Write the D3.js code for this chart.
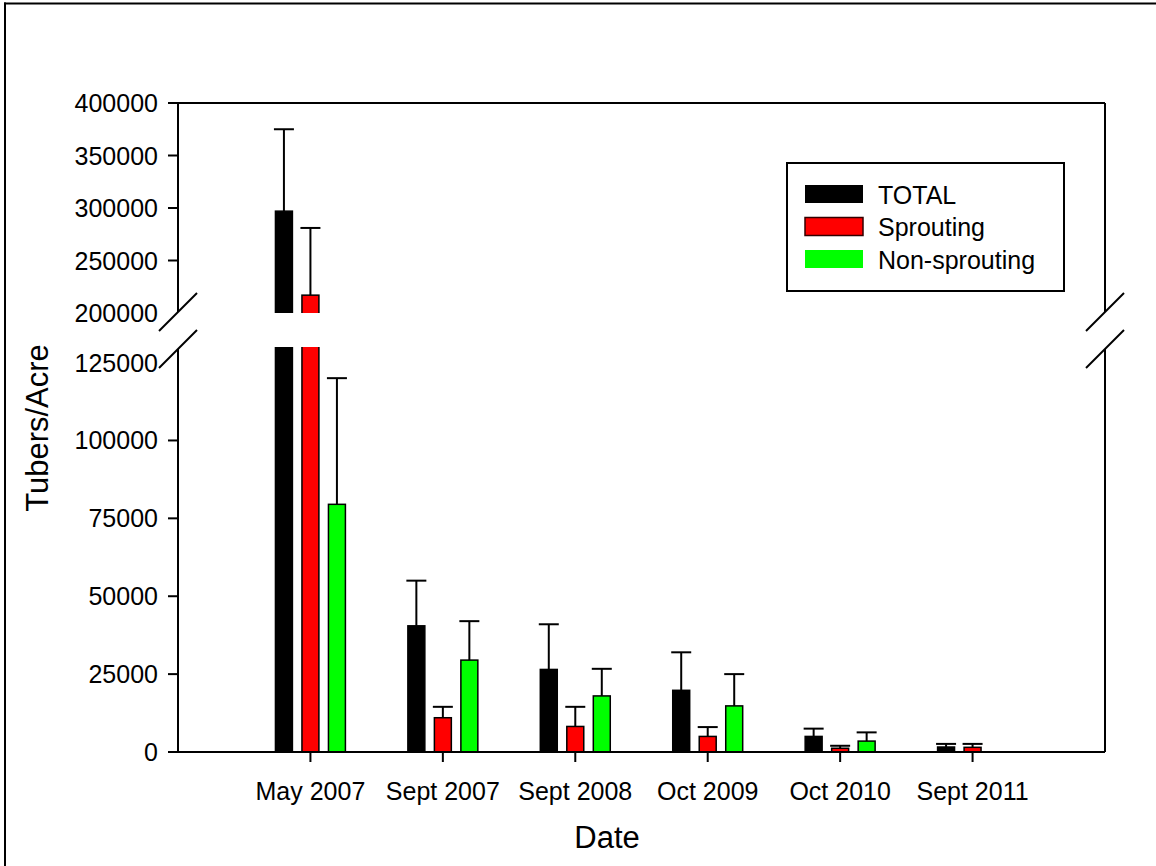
<!DOCTYPE html>
<html>
<head>
<meta charset="utf-8">
<script src="https://cdn.jsdelivr.net/npm/d3@7/dist/d3.min.js"></script>
<style>
  html, body { margin: 0; padding: 0; background: #fff; }
  svg { display: block; font-family: Arial, "Liberation Sans", sans-serif; }
</style>
</head>
<body>
<svg id="chart" width="1156" height="866"></svg>
<script>
// Tuber density by sampling date
const dates = ["May 2007", "Sept 2007", "Sept 2008", "Oct 2009", "Oct 2010", "Sept 2011"];
const seriesNames = ["TOTAL", "Sprouting", "Non-sprouting"];
const seriesColors = ["#000000", "#ff0000", "#00ff00"];

const totalMean      = [297000, 40500, 26500, 19800, 5000, 1600];
const totalUpper     = [375000, 55000, 41000, 32000, 7500, 2600];
const sproutingMean  = [217000, 11000,  8200,  5000, 1200, 1500];
const sproutingUpper = [281000, 14500, 14500,  8000, 2000, 2600];
const nonSproutMean  = [ 79500, 29500, 18000, 14800, 3500,    0];
const nonSproutUpper = [120000, 42000, 26700, 25000, 6300,    0];

const lowerTicks = [0, 25000, 50000, 75000, 100000, 125000];
const upperTicks = [200000, 250000, 300000, 350000, 400000];

const means = [totalMean, sproutingMean, nonSproutMean];
const uppers = [totalUpper, sproutingUpper, nonSproutUpper];

const svg = d3.select("#chart");

const plotLeft = 178, plotRight = 1105, plotTop = 103, plotBottom = 752;
const breakLow = 349, breakHigh = 312;   // axis break edges

// Broken y axis: two linear segments
const yLower = d3.scaleLinear().domain([0, 130000]).range([plotBottom, 347]);
const yUpper = d3.scaleLinear().domain([200000, 400000]).range([313, plotTop]);

const x = d3.scalePoint().domain(dates).range([plotLeft, plotRight]).padding(1);
const xs = d3.scaleBand().domain(seriesNames).range([-39.75, 39.75]).paddingInner(0.36).paddingOuter(0.18);
const bw = xs.bandwidth();

// outer frame edges
svg.append("line").attr("x1", 4).attr("x2", 1156).attr("y1", 3.5).attr("y2", 3.5)
  .attr("stroke", "#000").attr("stroke-width", 2);
svg.append("line").attr("x1", 5).attr("x2", 5).attr("y1", 2.5).attr("y2", 866)
  .attr("stroke", "#000").attr("stroke-width", 2);

const defs = svg.append("defs");
defs.append("clipPath").attr("id", "clipLower").append("rect")
  .attr("x", plotLeft).attr("y", 347).attr("width", plotRight - plotLeft).attr("height", plotBottom - 347 + 5);
defs.append("clipPath").attr("id", "clipUpper").append("rect")
  .attr("x", plotLeft).attr("y", plotTop - 30).attr("width", plotRight - plotLeft).attr("height", 313 - plotTop + 30);

const records = [];
dates.forEach((d, i) => {
  seriesNames.forEach((s, k) => {
    records.push({ date: d, series: s, color: seriesColors[k], mean: means[k][i], upper: uppers[k][i] });
  });
});
const drawn = records.filter(r => r.mean > 0);

// Lower segment bars
const gLow = svg.append("g").attr("clip-path", "url(#clipLower)");
gLow.selectAll("rect").data(drawn).join("rect")
  .attr("x", r => x(r.date) + xs(r.series))
  .attr("width", bw)
  .attr("y", r => yLower(r.mean))
  .attr("height", r => plotBottom - yLower(r.mean))
  .attr("fill", r => r.color)
  .attr("stroke", "#000").attr("stroke-width", 1.5);

// Upper segment bars (only those that reach past the break)
const tall = drawn.filter(r => r.mean > 200000);
const gUp = svg.append("g").attr("clip-path", "url(#clipUpper)");
gUp.selectAll("rect").data(tall).join("rect")
  .attr("x", r => x(r.date) + xs(r.series))
  .attr("width", bw)
  .attr("y", r => yUpper(r.mean))
  .attr("height", r => yUpper(150000) - yUpper(r.mean))
  .attr("fill", r => r.color)
  .attr("stroke", "#000").attr("stroke-width", 1.5);

// Error bars (upper whisker only)
const yOf = v => v > 200000 ? yUpper(v) : yLower(v);
const gErr = svg.append("g").attr("stroke", "#000").attr("stroke-width", 2);
drawn.forEach(r => {
  const cx = x(r.date) + xs(r.series) + bw / 2;
  gErr.append("line").attr("x1", cx).attr("x2", cx)
    .attr("y1", yOf(r.mean)).attr("y2", yOf(r.upper));
  gErr.append("line").attr("x1", cx - 10).attr("x2", cx + 10)
    .attr("y1", yOf(r.upper)).attr("y2", yOf(r.upper));
});

// Frame and axes
const axis = svg.append("g").attr("stroke", "#000").attr("stroke-width", 2).attr("fill", "none");
axis.append("line").attr("x1", plotLeft - 10).attr("x2", plotRight).attr("y1", plotTop).attr("y2", plotTop);
[plotLeft, plotRight].forEach(ax => {
  axis.append("line").attr("x1", ax).attr("x2", ax).attr("y1", plotTop).attr("y2", breakHigh);
  axis.append("line").attr("x1", ax).attr("x2", ax).attr("y1", breakLow).attr("y2", plotBottom);
  [breakHigh, breakLow].forEach(by => {
    axis.append("line").attr("x1", ax - 19).attr("x2", ax + 19).attr("y1", by + 19).attr("y2", by - 19);
  });
});
axis.append("line").attr("x1", plotLeft).attr("x2", plotRight).attr("y1", plotBottom).attr("y2", plotBottom);

// y ticks
const tickFont = 25;
const yTicks = lowerTicks.map(v => ({ v, y: yLower(v), edge: v === 125000 }))
  .concat(upperTicks.map(v => ({ v, y: yUpper(v), edge: v === 200000 })));
yTicks.forEach(t => {
  if (!t.edge) {
    axis.append("line").attr("x1", plotLeft - 10).attr("x2", plotLeft).attr("y1", t.y).attr("y2", t.y);
  }
  svg.append("text").attr("x", plotLeft - 20).attr("y", t.y).attr("dy", "0.36em")
    .attr("text-anchor", "end").attr("font-size", tickFont).text(t.v);
});

// x ticks and labels
dates.forEach(d => {
  axis.append("line").attr("x1", x(d)).attr("x2", x(d)).attr("y1", plotBottom).attr("y2", plotBottom + 10);
  svg.append("text").attr("x", x(d)).attr("y", 800).attr("text-anchor", "middle")
    .attr("font-size", tickFont).text(d);
});

// axis titles
svg.append("text").attr("x", 607).attr("y", 848).attr("text-anchor", "middle")
  .attr("font-size", 31).text("Date");
svg.append("text").attr("transform", "translate(48,428) rotate(-90)").attr("text-anchor", "middle")
  .attr("font-size", 31).text("Tubers/Acre");

// legend
const lg = svg.append("g");
lg.append("rect").attr("x", 787).attr("y", 163).attr("width", 277).attr("height", 128)
  .attr("fill", "#fff").attr("stroke", "#000").attr("stroke-width", 2);
const legendRows = [185, 217.5, 250];
seriesNames.forEach((s, k) => {
  lg.append("rect").attr("x", 805).attr("y", legendRows[k]).attr("width", 58).attr("height", 18)
    .attr("fill", seriesColors[k])
    .attr("stroke", k === 1 ? "#300" : "none").attr("stroke-width", 1.5);
  lg.append("text").attr("x", 878).attr("y", legendRows[k] + 18.5)
    .attr("font-size", tickFont).text(s);
});
</script>
</body>
</html>
